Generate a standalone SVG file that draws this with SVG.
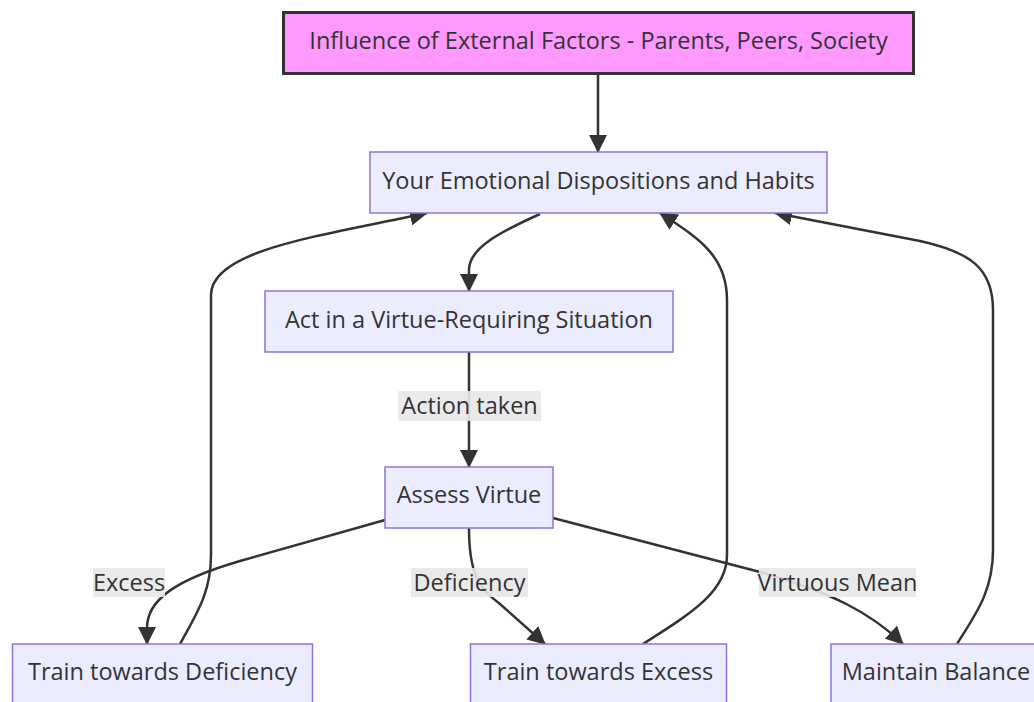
<svg xmlns="http://www.w3.org/2000/svg" width="1034" height="702" viewBox="0 0 1034 702">
  <style>
    .node rect { fill: #ECECFF; stroke: #9370DB; stroke-width: 1.5; }
    .node.ext rect { fill: #FF99FF; stroke: #333333; stroke-width: 3; }
    .node text, .elabel text { font-family: "Open Sans", "Liberation Sans", sans-serif; font-size: 23.5px; fill: #333333; text-anchor: middle; }
    .edge { fill: none; stroke: #333333; stroke-width: 2.5; marker-end: url(#arrow); }
    .elabel rect { fill: #E8E8E8; opacity: 0.9; }
  </style>
  <defs>
    <marker id="arrow" markerUnits="userSpaceOnUse" viewBox="0 0 18 18" markerWidth="18" markerHeight="18" refX="17" refY="9" orient="auto">
      <path d="M0,0 L18,9 L0,18 z" fill="#333333"/>
    </marker>
  </defs>
  <rect width="1034" height="702" fill="#FFFFFF"/>

  <!-- connectors -->
  <g id="connectors">
    <path id="e-ext-habits" class="edge" d="M598,74 L598,152"/>
    <path id="e-habits-act" class="edge" d="M540,214 C500,232 469,248 469,270 L469,291"/>
    <path id="e-act-assess" class="edge" d="M469,352 L469,467"/>
    <path id="e-assess-def" class="edge" d="M385,520 L240,561 C175,580 147,600 147,628 L147,644"/>
    <path id="e-assess-exc" class="edge" d="M469,528 C469,572 478,588 500,604 L545,644"/>
    <path id="e-assess-bal" class="edge" d="M553,518 L760,572 C830,592 870,612 903,644"/>
    <path id="e-def-habits" class="edge" d="M180,644 C197,613 211,592 211,555 L211,295 C211,250 320,236 427,213"/>
    <path id="e-exc-habits" class="edge" d="M643,644 C690,614 727,592 727,555 L727,300 C727,258 702,240 660,213"/>
    <path id="e-bal-habits" class="edge" d="M957,644 C975,615 993,592 993,550 L993,310 C993,268 970,252 920,241 L775,213"/>
  </g>

  <!-- edge labels -->
  <g id="edge-labels">
    <g class="elabel" id="lbl-action">
      <rect x="398" y="391" width="143" height="30"/>
      <text x="469.5" y="414">Action taken</text>
    </g>
    <g class="elabel" id="lbl-excess">
      <rect x="93" y="568" width="72" height="29"/>
      <text x="129" y="591">Excess</text>
    </g>
    <g class="elabel" id="lbl-deficiency">
      <rect x="411" y="568" width="117" height="29"/>
      <text x="469.5" y="591">Deficiency</text>
    </g>
    <g class="elabel" id="lbl-mean">
      <rect x="759" y="568" width="157" height="29"/>
      <text x="837.5" y="591">Virtuous Mean</text>
    </g>
  </g>

  <!-- nodes -->
  <g id="node-external" class="node ext">
    <rect x="283.5" y="12.5" width="630" height="61"/>
    <text x="598.5" y="49">Influence of External Factors - Parents, Peers, Society</text>
  </g>
  <g id="node-habits" class="node">
    <rect x="370" y="152" width="457" height="61"/>
    <text x="598.5" y="188.5">Your Emotional Dispositions and Habits</text>
  </g>
  <g id="node-act" class="node">
    <rect x="265" y="291" width="408" height="61"/>
    <text x="469" y="327.5">Act in a Virtue-Requiring Situation</text>
  </g>
  <g id="node-assess" class="node">
    <rect x="385" y="467" width="168" height="61"/>
    <text x="469" y="503">Assess Virtue</text>
  </g>
  <g id="node-train-def" class="node">
    <rect x="12.5" y="644" width="300" height="61"/>
    <text x="162.5" y="680">Train towards Deficiency</text>
  </g>
  <g id="node-train-exc" class="node">
    <rect x="470.5" y="644" width="256" height="61"/>
    <text x="598.5" y="680">Train towards Excess</text>
  </g>
  <g id="node-balance" class="node">
    <rect x="831" y="644" width="210" height="61"/>
    <text x="936" y="680">Maintain Balance</text>
  </g>
</svg>
